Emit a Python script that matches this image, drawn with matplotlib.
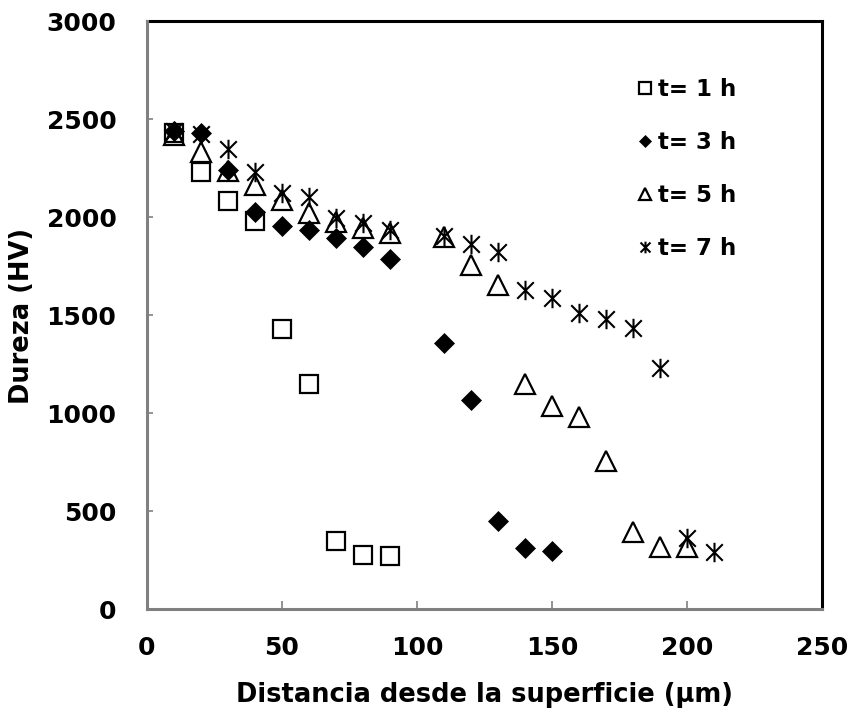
import matplotlib
matplotlib.use("Agg")
import matplotlib.pyplot as plt
from matplotlib.path import Path

# Hardness profiles (HV) vs. distance from the surface (µm)
dist_1h = [10, 20, 30, 40, 50, 60, 70, 80, 90]
hv_1h = [2430, 2230, 2085, 1980, 1430, 1150, 350, 278, 273]

dist_3h = [10, 20, 30, 40, 50, 60, 70, 80, 90, 110, 120, 130, 140, 150]
hv_3h = [2440, 2433, 2242, 2028, 1957, 1936, 1895, 1851, 1790, 1358, 1069, 451, 312, 298]

dist_5h = [10, 20, 30, 40, 50, 60, 70, 80, 90, 110, 120, 130, 140, 150, 160, 170, 180, 190, 200]
hv_5h = [2420, 2336, 2235, 2166, 2089, 2022, 1978, 1946, 1920, 1902, 1758, 1656, 1150, 1038,
         984, 757, 397, 319, 319]

dist_7h = [10, 20, 30, 40, 50, 60, 70, 80, 90, 110, 120, 130, 140, 150, 160, 170, 180, 190, 200, 210]
hv_7h = [2440, 2425, 2349, 2234, 2127, 2106, 1997, 1971, 1936, 1905, 1865, 1826, 1630, 1589,
         1513, 1482, 1436, 1230, 365, 295]

labels = ["t= 1 h", "t= 3 h", "t= 5 h", "t= 7 h"]
x_ticks = [0, 50, 100, 150, 200, 250]
y_ticks = [0, 500, 1000, 1500, 2000, 2500, 3000]

# Asterisk marker: an X crossed by a vertical bar
d = 0.85
star_path = Path(
    [(0, -1), (0, 1), (-d, -d), (d, d), (-d, d), (d, -d)],
    [Path.MOVETO, Path.LINETO, Path.MOVETO, Path.LINETO, Path.MOVETO, Path.LINETO],
)

plt.rcParams["font.family"] = ["DejaVu Sans"]
plt.rcParams["font.weight"] = "bold"

fig = plt.figure(figsize=(8.49, 7.11), dpi=100)
ax = fig.add_axes([0.1731, 0.1428, 0.7951, 0.8270])

ax.plot(dist_1h, hv_1h, ls="none", marker="s", ms=13.5, mfc="none", mec="black", mew=1.6,
        label=labels[0])
ax.plot(dist_3h, hv_3h, ls="none", marker="D", ms=10.5, mfc="black", mec="black", mew=0.5,
        label=labels[1])
ax.plot(dist_5h, hv_5h, ls="none", marker="^", ms=14, mfc="none", mec="black", mew=1.6,
        label=labels[2])
ax.plot(dist_7h, hv_7h, ls="none", marker=star_path, ms=14, mfc="none", mec="black", mew=1.5,
        label=labels[3])

ax.set_xlim(0, 250)
ax.set_ylim(0, 3000)
ax.set_xticks(x_ticks)
ax.set_yticks(y_ticks)

for side in ("top", "right"):
    ax.spines[side].set_color("black")
    ax.spines[side].set_linewidth(2.2)
for side in ("left", "bottom"):
    ax.spines[side].set_color("#808080")
    ax.spines[side].set_linewidth(2.2)
    ax.spines[side].set_zorder(5)

ax.tick_params(axis="x", direction="in", length=6, width=1.2, color="#808080",
               labelsize=18, pad=19)
ax.tick_params(axis="y", direction="in", length=4, width=1.2, color="#808080",
               labelsize=18, pad=22)
for lab in ax.get_xticklabels() + ax.get_yticklabels():
    lab.set_fontweight("bold")

ax.set_xlabel("Distancia desde la superficie (µm)", fontsize=18.5, fontweight="bold", labelpad=16)
ax.set_ylabel("Dureza (HV)", fontsize=18.5, fontweight="bold", labelpad=8)

leg = ax.legend(loc="upper left", bbox_to_anchor=(0.7113, 0.919), frameon=False,
                fontsize=16.5, markerscale=0.6, handlelength=0.8, handletextpad=0.15,
                labelspacing=1.3, borderaxespad=0)
for t in leg.get_texts():
    t.set_fontweight("bold")

fig.savefig("out.png", dpi=100, facecolor="white")
